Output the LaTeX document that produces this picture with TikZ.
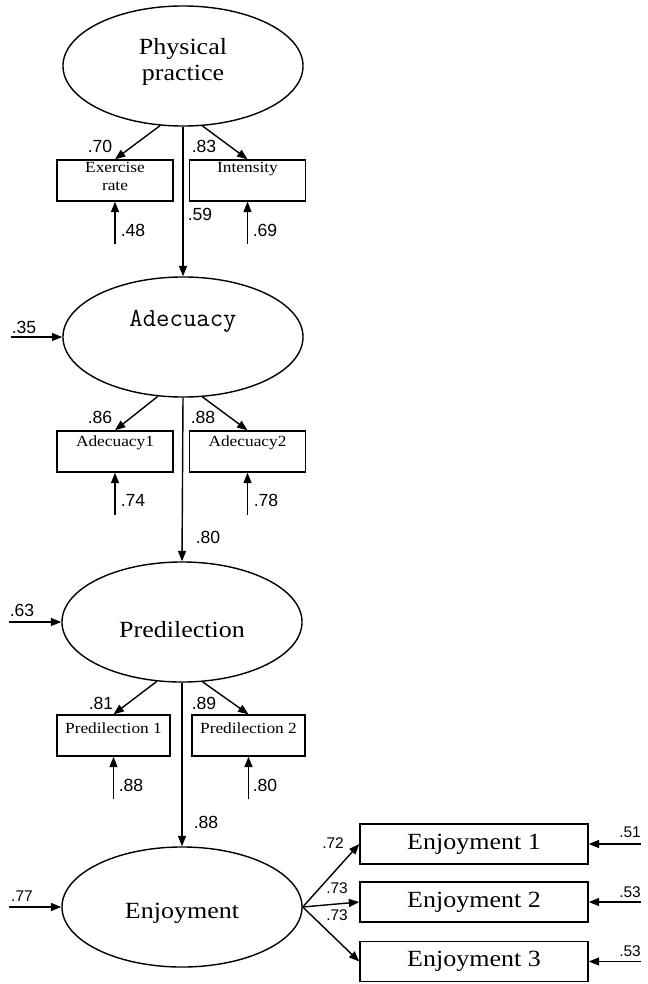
\documentclass[tikz,border=0pt]{standalone}
\usepackage{fontspec}
\setmainfont{Liberation Serif}[FakeStretch=1.12]
\newfontfamily\numfont{Liberation Sans}
\usepackage{tikz}
\usetikzlibrary{arrows.meta,shapes.geometric}

\tikzset{
  latent/.style={draw,ellipse,line width=1pt,minimum width=6cm,minimum height=3cm,inner sep=0pt},
  lattxt/.style={font=\fontsize{16.5}{19}\selectfont,align=center},
  obs/.style={draw,rectangle,line width=1pt,minimum width=2.9cm,minimum height=1.025cm,inner sep=0pt},
  obstxt/.style={font=\fontsize{11}{12.8}\selectfont,align=center,anchor=north,yshift=-1pt,inner sep=1pt},
  bigobs/.style={draw,rectangle,line width=1pt,minimum width=5.7cm,minimum height=1cm,inner sep=0pt,font=\fontsize{16.5}{19}\selectfont},
  coef/.style={font=\numfont\fontsize{12.5}{14}\selectfont,inner sep=0pt},
  smallcoef/.style={font=\numfont\fontsize{11}{12}\selectfont,inner sep=0pt},
  arr/.style={line width=1pt,-{Triangle[length=2.6mm,width=2mm]}},
}

\begin{document}
\begin{tikzpicture}[x=0.025cm,y=-0.025cm]
    \useasboundingbox (0,0) rectangle (647,984);

    % latent variables
    \node [latent,label={[lattxt,yshift=0.1cm]center:Physical\\practice}] (phys) at (183,66) {};
    \node [latent,label={[font=\ttfamily\fontsize{18.5}{20}\selectfont,yshift=0.38cm]center:Adecuacy}] (adec) at (183,337) {};
    \node [latent,label={[lattxt,yshift=-0.2cm]center:Predilection}] (pred) at (182,622) {};
    \node [latent,label={[lattxt,yshift=-0.15cm]center:Enjoyment}] (enjo) at (182,907) {};

    % indicators
    \node [obs,label={[obstxt]north:Exercise\\rate}] (exrate) at (115,180.5) {};
    \node [obs,label={[obstxt]north:Intensity}] (inten) at (247.5,180.5) {};
    \node [obs,label={[obstxt,yshift=-2pt]north:Adecuacy1}] (adec1) at (115,451.5) {};
    \node [obs,label={[obstxt,yshift=-2pt]north:Adecuacy2}] (adec2) at (247.5,451.5) {};
    \node [obs,minimum width=2.825cm,label={[obstxt,yshift=-4pt]north:Predilection 1}] (pred1) at (113.5,735.5) {};
    \node [obs,minimum width=2.825cm,label={[obstxt,yshift=-4pt]north:Predilection 2}] (pred2) at (248.5,735.5) {};
    \node [bigobs] (enjo1) at (474,844) {Enjoyment 1};
    \node [bigobs] (enjo2) at (474,902) {Enjoyment 2};
    \node [bigobs] (enjo3) at (474,961.5) {Enjoyment 3};

    % structural paths
    \draw [arr] (phys.south) -- (adec.north);
    \draw [arr] (adec.south) -- (pred.north);
    \draw [arr] (pred.south) -- (enjo.north);

    % loadings
    \draw [arr] (phys.-111) -- (exrate.north);
    \draw [arr] (phys.-72) -- (inten.north);
    \draw [arr] (adec.-113) -- (adec1.north);
    \draw [arr] (adec.-72) -- (adec2.north);
    \draw [arr] (pred.-113) -- (pred1.north);
    \draw [arr] (pred.-71) -- (pred2.north);
    \draw [arr] (enjo.east) -- (enjo1.west);
    \draw [arr] (enjo.east) -- (enjo2.west);
    \draw [arr] (enjo.east) -- (enjo3.west);

    % errors and disturbances
    \draw [arr] ([yshift=-1.05cm]exrate.south) -- (exrate.south);
    \draw [arr] ([yshift=-1.05cm]inten.south) -- (inten.south);
    \draw [arr] ([yshift=-1.05cm]adec1.south) -- (adec1.south);
    \draw [arr] ([yshift=-1.05cm]adec2.south) -- (adec2.south);
    \draw [arr] ([yshift=-1.05cm]pred1.south) -- (pred1.south);
    \draw [arr] ([yshift=-1.05cm]pred2.south) -- (pred2.south);
    \draw [arr] ([xshift=-1.275cm]adec.west) -- (adec.west);
    \draw [arr] ([xshift=-1.3cm]pred.west) -- (pred.west);
    \draw [arr] ([xshift=-1.3cm]enjo.west) -- (enjo.west);
    \draw [arr] ([xshift=1.3cm]enjo1.east) -- (enjo1.east);
    \draw [arr] ([xshift=1.3cm]enjo2.east) -- (enjo2.east);
    \draw [arr] ([xshift=1.3cm]enjo3.east) -- (enjo3.east);

    % coefficients
    \node [coef] (c70) at (100,146) {.70};
    \node [coef] (c83) at (204,146) {.83};
    \node [coef] (c59) at (200,214) {.59};
    \node [coef] (c48) at (133,230) {.48};
    \node [coef] (c69) at (265,230) {.69};
    \node [coef] (c35) at (24,327) {.35};
    \node [coef] (c86) at (100,417) {.86};
    \node [coef] (c88a) at (203,417) {.88};
    \node [coef] (c74) at (133,500) {.74};
    \node [coef] (c78) at (266,500) {.78};
    \node [coef] (c80a) at (208,537) {.80};
    \node [coef] (c63) at (22,610) {.63};
    \node [coef] (c81) at (101,703) {.81};
    \node [coef] (c89) at (204,703) {.89};
    \node [coef] (c88b) at (131,785) {.88};
    \node [coef] (c80b) at (265,785) {.80};
    \node [coef] (c88c) at (206,822) {.88};
    \node [smallcoef] (c77) at (22,896) {.77};
    \node [smallcoef] (c72) at (333,843) {.72};
    \node [smallcoef] (c73a) at (337,888) {.73};
    \node [smallcoef] (c73b) at (337,915) {.73};
    \node [smallcoef] (c51) at (630,832) {.51};
    \node [smallcoef] (c53a) at (630,892) {.53};
    \node [smallcoef] (c53b) at (630,951) {.53};
\end{tikzpicture}
\end{document}
